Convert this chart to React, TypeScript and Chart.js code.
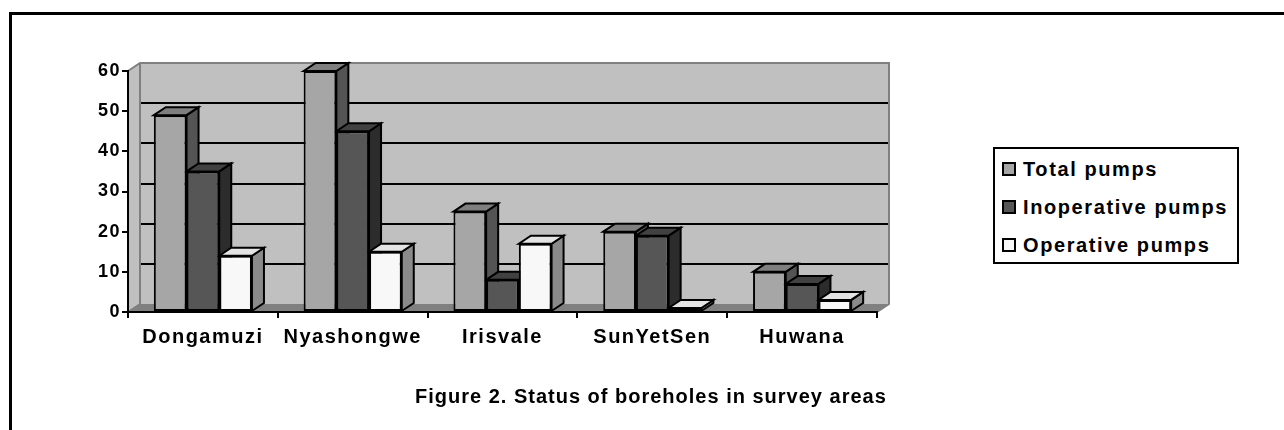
import React, { useEffect, useRef } from 'react';
import { Chart, registerables } from 'chart.js';

Chart.register(...registerables);

// ---- data ----
const categories = ['Dongamuzi', 'Nyashongwe', 'Irisvale', 'SunYetSen', 'Huwana'];
const totalPumps = [49, 60, 25, 20, 10];
const inoperativePumps = [35, 45, 8, 19, 7];
const operativePumps = [14, 15, 17, 1, 3];
const seriesNames = ['Total pumps', 'Inoperative pumps', 'Operative pumps'];
const yTicks = [0, 10, 20, 30, 40, 50, 60];
const titleText = 'Figure 2. Status of boreholes in survey areas';

// ---- styles ----
const frontColors = ['#a6a6a6', '#565656', '#f8f8f8'];
const topColors = ['#7f7f7f', '#414141', '#e4e4e4'];
const sideColors = ['#545454', '#2c2c2c', '#8a8a8a'];
const DX = 12;
const DY = 8;
const FONT = '"Liberation Sans", Arial, sans-serif';

const threeD = {
  id: 'threeD',
  beforeDraw(chart: any) {
    const { ctx, chartArea: a, scales } = chart;
    const y = scales.y;
    ctx.save();
    ctx.fillStyle = '#c0c0c0';
    // left wall
    ctx.beginPath();
    ctx.moveTo(a.left, a.bottom);
    ctx.lineTo(a.left, a.top);
    ctx.lineTo(a.left + DX, a.top - DY);
    ctx.lineTo(a.left + DX, a.bottom - DY);
    ctx.closePath();
    ctx.fill();
    // back wall
    ctx.fillRect(a.left + DX, a.top - DY, a.right - a.left, a.bottom - a.top);
    // floor
    ctx.fillStyle = '#808080';
    ctx.beginPath();
    ctx.moveTo(a.left, a.bottom);
    ctx.lineTo(a.right, a.bottom);
    ctx.lineTo(a.right + DX, a.bottom - DY);
    ctx.lineTo(a.left + DX, a.bottom - DY);
    ctx.closePath();
    ctx.fill();
    // gridlines on back wall
    ctx.strokeStyle = '#000';
    ctx.lineWidth = 2;
    yTicks.forEach((v) => {
      if (v <= 0 || v >= 60) return;
      const py = Math.round(y.getPixelForValue(v) - DY);
      ctx.beginPath();
      ctx.moveTo(a.left + DX, py);
      ctx.lineTo(a.right + DX, py);
      ctx.stroke();
    });
    // wall edges
    ctx.strokeStyle = '#808080';
    ctx.lineWidth = 2;
    ctx.beginPath();
    ctx.moveTo(a.left, a.top);
    ctx.lineTo(a.left + DX, a.top - DY);
    ctx.lineTo(a.right + DX, a.top - DY);
    ctx.lineTo(a.right + DX, a.bottom - DY);
    ctx.lineTo(a.right, a.bottom);
    ctx.moveTo(a.left + DX, a.top - DY);
    ctx.lineTo(a.left + DX, a.bottom - DY);
    ctx.moveTo(a.left, a.bottom);
    ctx.lineTo(a.left + DX, a.bottom - DY);
    ctx.stroke();
    ctx.restore();
    ctx.letterSpacing = '1.5px';
  },
  beforeDatasetsDraw(chart: any) {
    const { ctx } = chart;
    ctx.save();
    ctx.lineWidth = 2;
    ctx.strokeStyle = '#000';
    ctx.lineJoin = 'miter';
    const n = chart.data.datasets.length;
    for (let i = 0; i < n; i++) {
      const meta = chart.getDatasetMeta(i);
      meta.data.forEach((el: any) => {
        const { x, y, base, width } = el.getProps(['x', 'y', 'base', 'width'], true);
        const l = x - width / 2;
        const r = x + width / 2;
        const top = Math.min(y, base);
        const bottom = Math.max(y, base);
        // side face
        ctx.fillStyle = sideColors[i];
        ctx.beginPath();
        ctx.moveTo(r, top);
        ctx.lineTo(r + DX, top - DY);
        ctx.lineTo(r + DX, bottom - DY);
        ctx.lineTo(r, bottom);
        ctx.closePath();
        ctx.fill();
        ctx.stroke();
        // top face
        ctx.fillStyle = topColors[i];
        ctx.beginPath();
        ctx.moveTo(l, top);
        ctx.lineTo(l + DX, top - DY);
        ctx.lineTo(r + DX, top - DY);
        ctx.lineTo(r, top);
        ctx.closePath();
        ctx.fill();
        ctx.stroke();
      });
    }
    ctx.restore();
  },
};

export default function App() {
  const ref = useRef<HTMLCanvasElement | null>(null);

  useEffect(() => {
    if (!ref.current) return;
    const series = [totalPumps, inoperativePumps, operativePumps];
    const chart = new Chart(ref.current, {
      type: 'bar',
      data: {
        labels: categories,
        datasets: series.map((d, i) => ({
          label: seriesNames[i],
          data: d,
          backgroundColor: frontColors[i],
          borderColor: '#000',
          borderWidth: 2,
          borderSkipped: false,
          barPercentage: 1,
          categoryPercentage: 0.655,
          clip: false as any,
        })),
      },
      options: {
        responsive: false,
        animation: false,
        events: [],
        layout: { padding: { top: 71, right: 407, bottom: 0, left: 0 } },
        plugins: {
          legend: { display: false },
          title: { display: false },
          tooltip: { enabled: false },
        },
        scales: {
          x: {
            grid: {
              offset: true,
              drawOnChartArea: false,
              drawTicks: true,
              tickLength: 6,
              color: '#000',
              lineWidth: 2,
            },
            border: { display: true, color: '#000', width: 2 },
            ticks: {
              color: '#000',
              font: { family: FONT, size: 20, weight: 'bold' },
              padding: 7,
              maxRotation: 0,
              autoSkip: false,
            },
            afterFit: (s: any) => {
              s.height = 118;
            },
          },
          y: {
            min: 0,
            max: 60,
            grid: {
              drawOnChartArea: false,
              drawTicks: true,
              tickLength: 6,
              color: '#000',
              lineWidth: 2,
            },
            border: { display: true, color: '#000', width: 2 },
            ticks: {
              stepSize: 10,
              color: '#000',
              font: { family: FONT, size: 18, weight: 'bold' },
              padding: 1,
            },
            afterFit: (s: any) => {
              s.width = 128;
            },
          },
        },
      },
      plugins: [threeD],
    });
    return () => chart.destroy();
  }, []);

  const legendTops = [169, 207, 245];

  return (
    <div
      style={{
        position: 'fixed',
        left: 0,
        top: 0,
        width: 1284,
        height: 430,
        background: '#fff',
        overflow: 'hidden',
        fontFamily: FONT,
      }}
    >
      <div
        style={{
          position: 'absolute',
          left: 9,
          top: 12,
          width: 1400,
          height: 600,
          border: '3px solid #000',
        }}
      />
      <canvas
        ref={ref}
        width={1284}
        height={430}
        style={{ position: 'absolute', left: 0, top: 0, width: 1284, height: 430 }}
      />
      <div
        style={{
          position: 'absolute',
          left: 993,
          top: 147,
          width: 246,
          height: 117,
          boxSizing: 'border-box',
          border: '2px solid #000',
          background: '#fff',
        }}
      />
      {seriesNames.map((name, i) => (
        <div
          key={name}
          style={{
            position: 'absolute',
            left: 1002,
            top: legendTops[i] - 12,
            height: 24,
            display: 'flex',
            alignItems: 'center',
            whiteSpace: 'nowrap',
          }}
        >
          <div
            style={{
              width: 14,
              height: 14,
              boxSizing: 'border-box',
              border: '2px solid #000',
              background: frontColors[i],
              marginRight: 7,
            }}
          />
          <span
            style={{
              fontSize: 20,
              fontWeight: 'bold',
              letterSpacing: '1.6px',
              lineHeight: '24px',
              color: '#000',
            }}
          >
            {name}
          </span>
        </div>
      ))}
      <div
        style={{
          position: 'absolute',
          left: 415,
          top: 384,
          fontSize: 20,
          fontWeight: 'bold',
          letterSpacing: '1px',
          lineHeight: '24px',
          whiteSpace: 'nowrap',
          color: '#000',
        }}
      >
        {titleText}
      </div>
    </div>
  );
}
